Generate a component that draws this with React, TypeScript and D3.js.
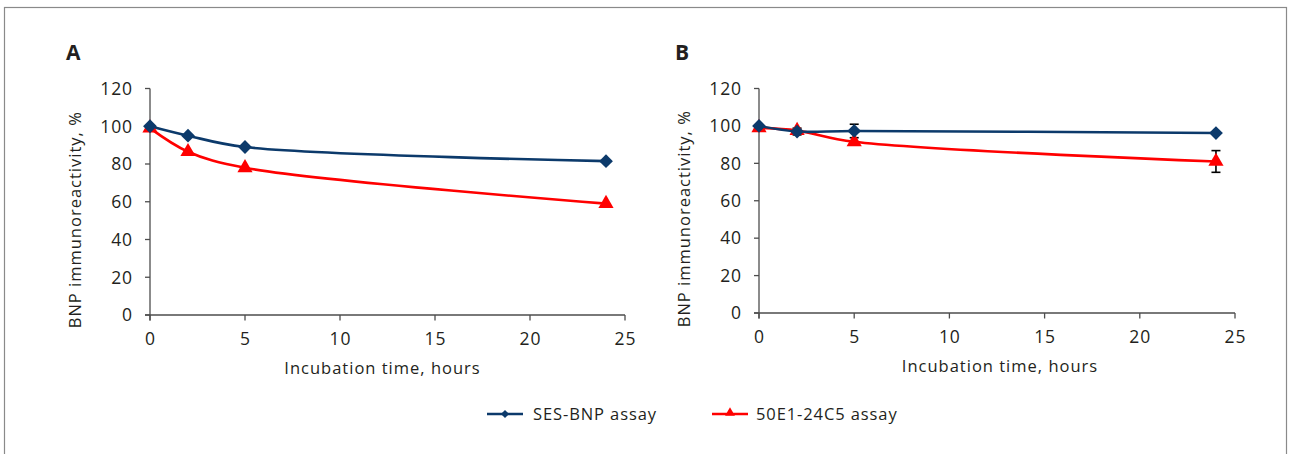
import React from "react";
import * as d3 from "d3";

const hours = [0, 2, 5, 24];
const sesA = [100, 95, 89, 81.5];
const redA = [99, 86.5, 78, 59];
const sesB = [100, 97, 97.3, 96.2];
const redB = [99, 97.5, 91.5, 81];
const sesBErr = [0, 1.8, 3.6, 0];
const redBErr = [0, 0, 0, 5.8];
const xTicks = [0, 5, 10, 15, 20, 25];
const yTicks = [0, 20, 40, 60, 80, 100, 120];
const seriesNames = ["SES-BNP assay", "50E1-24C5 assay"];

const NAVY = "#0c3a6b";
const RED = "#ff0000";
const AXIS = "#4d4d4d";
const TEXT = "#231f20";
const FONT = "'Open Sans', sans-serif";
const LS_TITLE = 1.0;
const LS_TICK = 0.9;

const diamond = d3.symbol(d3.symbolSquare, 95)();
const triangle = d3.symbol(d3.symbolTriangle, 100)();
const diamondSmall = d3.symbol(d3.symbolSquare, 34)();
const triangleSmall = d3.symbol(d3.symbolTriangle, 42)();

type PanelProps = {
  label: string;
  x0: number;
  x1: number;
  yBottom: number;
  yTop: number;
  titleShift: number;
  blue: number[];
  red: number[];
  blueErr?: number[];
  redErr?: number[];
};

function Panel({ label, x0, x1, yBottom, yTop, titleShift, blue, red, blueErr, redErr }: PanelProps) {
  const x = d3.scaleLinear().domain([0, 25]).range([x0, x1]);
  const y = d3.scaleLinear().domain([0, 120]).range([yBottom, yTop]);
  const line = d3
    .line<number>()
    .x((_, i) => x(hours[i]))
    .y((d) => y(d))
    .curve(d3.curveCatmullRom.alpha(0.5));

  const errBars = (vals: number[], errs: number[] | undefined) =>
    errs
      ? vals.map((v, i) =>
          errs[i] > 0 ? (
            <g key={i} stroke="#000" strokeWidth={1.6}>
              <line x1={x(hours[i])} x2={x(hours[i])} y1={y(v - errs[i])} y2={y(v + errs[i])} />
              <line x1={x(hours[i]) - 4.5} x2={x(hours[i]) + 4.5} y1={y(v - errs[i])} y2={y(v - errs[i])} />
              <line x1={x(hours[i]) - 4.5} x2={x(hours[i]) + 4.5} y1={y(v + errs[i])} y2={y(v + errs[i])} />
            </g>
          ) : null
        )
      : null;

  return (
    <g>
      <text x={x0 - 84} y={60} fontSize={21} fontWeight="bold" fill={TEXT} fontFamily={FONT}>
        {label}
      </text>
      {/* y axis */}
      <line x1={x0} x2={x0} y1={yTop} y2={yBottom + 5.5} stroke={AXIS} strokeWidth={1.3} />
      {yTicks.map((t) => (
        <g key={t}>
          <line x1={x0 - 5} x2={x0} y1={y(t)} y2={y(t)} stroke={AXIS} strokeWidth={1.3} />
          <text
            x={x0 - 17}
            y={y(t)}
            dy="0.36em"
            textAnchor="end"
            fontSize={17.5}
            letterSpacing={LS_TICK}
            fill={TEXT}
            fontFamily={FONT}
          >
            {t}
          </text>
        </g>
      ))}
      {/* x axis */}
      <line x1={x0 - 5} x2={x1} y1={yBottom} y2={yBottom} stroke={AXIS} strokeWidth={1.3} />
      {xTicks.map((t) => (
        <g key={t}>
          <line x1={x(t)} x2={x(t)} y1={yBottom} y2={yBottom + 5.5} stroke={AXIS} strokeWidth={1.3} />
          <text
            x={x(t) + LS_TICK / 2}
            y={yBottom + 30}
            textAnchor="middle"
            fontSize={17.5}
            letterSpacing={LS_TICK}
            fill={TEXT}
            fontFamily={FONT}
          >
            {t}
          </text>
        </g>
      ))}
      <text
        x={(x0 + x1) / 2 + titleShift}
        y={yBottom + 59}
        textAnchor="middle"
        fontSize={16.5}
        letterSpacing={LS_TITLE}
        fill={TEXT}
        fontFamily={FONT}
      >
        Incubation time, hours
      </text>
      <text
        transform={`translate(${x0 - 69},${(yTop + yBottom) / 2 + 18}) rotate(-90)`}
        textAnchor="middle"
        fontSize={16.5}
        letterSpacing={LS_TITLE}
        fill={TEXT}
        fontFamily={FONT}
      >
        BNP immunoreactivity, %
      </text>
      {/* series */}
      <path d={line(red) || ""} fill="none" stroke={RED} strokeWidth={2.6} />
      <path d={line(blue) || ""} fill="none" stroke={NAVY} strokeWidth={2.6} />
      {errBars(red, redErr)}
      {errBars(blue, blueErr)}
      {red.map((v, i) => (
        <path key={"r" + i} d={triangle || ""} transform={`translate(${x(hours[i])},${y(v)})`} fill={RED} />
      ))}
      {blue.map((v, i) => (
        <path
          key={"b" + i}
          d={diamond || ""}
          transform={`translate(${x(hours[i])},${y(v)}) rotate(45)`}
          fill={NAVY}
        />
      ))}
    </g>
  );
}

export default function App() {
  return (
    <div style={{ position: "absolute", left: 0, top: 0 }}>
      <svg width={1290} height={454} style={{ display: "block", background: "#fff" }}>
        <rect x={4.5} y={7.5} width={1282} height={460} fill="#fff" stroke="#8a8a8a" strokeWidth={1.2} />
        <Panel label="A" x0={150} x1={625} yBottom={315} yTop={88.5} titleShift={-5} blue={sesA} red={redA} />
        <Panel
          label="B"
          x0={759}
          x1={1235}
          yBottom={313}
          yTop={88.5}
          titleShift={3}
          blue={sesB}
          red={redB}
          blueErr={sesBErr}
          redErr={redBErr}
        />
        {/* legend */}
        <g fontFamily={FONT} fontSize={16.5} letterSpacing={0.9} fill={TEXT}>
          <line x1={487} x2={523} y1={414} y2={414} stroke={NAVY} strokeWidth={2.4} />
          <path d={diamondSmall || ""} transform="translate(505,414) rotate(45)" fill={NAVY} />
          <text x={533} y={414} dy="0.36em">
            {seriesNames[0]}
          </text>
          <line x1={712} x2={748} y1={414} y2={414} stroke={RED} strokeWidth={2.4} />
          <path d={triangleSmall || ""} transform="translate(730,413)" fill={RED} />
          <text x={756} y={414} dy="0.36em">
            {seriesNames[1]}
          </text>
        </g>
      </svg>
    </div>
  );
}
